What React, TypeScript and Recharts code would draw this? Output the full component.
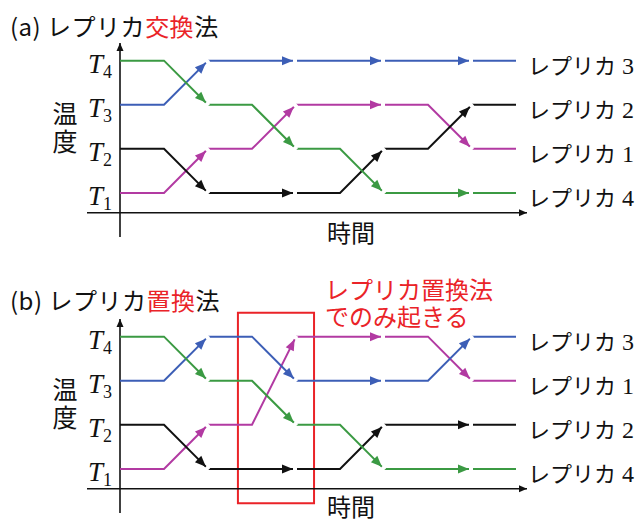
import { Line, LineChart, ReferenceArea, XAxis, YAxis } from 'recharts';

// time knots along the horizontal axis; an arrow is drawn every ARROW_EVERY knots
const TIME_STEPS = [0, 1, 2, 3, 4, 5, 6, 7, 8, 9];
const ARROW_EVERY = 2;
const TEMPERATURES = [1, 2, 3, 4];

const REPLICA_IDS = [1, 2, 3, 4];
const REPLICA_COLORS = ['#b23aa2', '#111111', '#3c5eb6', '#3b9a43'];

// temperature index held by each replica at every time knot — replica exchange
const EXCHANGE_R1 = [1, 1, 2, 2, 3, 3, 3, 3, 2, 2];
const EXCHANGE_R2 = [2, 2, 1, 1, 1, 1, 2, 2, 3, 3];
const EXCHANGE_R3 = [3, 3, 4, 4, 4, 4, 4, 4, 4, 4];
const EXCHANGE_R4 = [4, 4, 3, 3, 2, 2, 1, 1, 1, 1];

// same, replica permutation
const PERMUTE_R1 = [1, 1, 2, 2, 4, 4, 4, 4, 3, 3];
const PERMUTE_R2 = [2, 2, 1, 1, 1, 1, 2, 2, 2, 2];
const PERMUTE_R3 = [3, 3, 4, 4, 3, 3, 3, 3, 4, 4];
const PERMUTE_R4 = [4, 4, 3, 3, 2, 2, 1, 1, 1, 1];

const NOTE_LINES = ['レプリカ置換法', 'でのみ起きる'];

const X_DOMAIN: [number, number] = [-0.75, 9.25];
const Y_DOMAIN: [number, number] = [0, 4.4];
const X_AXIS_LEVEL = 0.55;

const JP = "'Noto Sans CJK JP', 'Noto Sans', sans-serif";
const SERIF = "'Liberation Serif', 'DejaVu Serif', serif";
const RED = '#ea2328';

type Pt = { t: number; v: number };

function segmentsOf(levels: number[]) {
  const pts: Pt[] = TIME_STEPS.map((t, i) => ({ t, v: levels[i] }));
  const segs: { data: Pt[]; arrow: boolean }[] = [];
  for (let s = 0; s < pts.length - 1; s += ARROW_EVERY) {
    const end = Math.min(s + ARROW_EVERY, pts.length - 1);
    segs.push({ data: pts.slice(s, end + 1), arrow: end - s === ARROW_EVERY });
  }
  return segs;
}

// arrowhead on the last point of a line, pointing along its final leg
function arrowDot(color: string, enabled: boolean, len: number, half: number, gap: number) {
  return (p: any) => {
    const { cx, cy, index, points } = p;
    const key = `a-${index}`;
    if (!enabled || !points || index !== points.length - 1 || index < 1) return <g key={key} />;
    const prev = points[index - 1];
    const dx = cx - prev.x;
    const dy = cy - prev.y;
    const d = Math.hypot(dx, dy) || 1;
    const ux = dx / d;
    const uy = dy / d;
    const tipX = cx - ux * gap;
    const tipY = cy - uy * gap;
    const bx = tipX - ux * len;
    const by = tipY - uy * len;
    const nx = -uy * half;
    const ny = ux * half;
    return (
      <g key={key}>
        {gap > 0 && (
          <line x1={tipX} y1={tipY} x2={cx + ux} y2={cy + uy} stroke="#fff" strokeWidth={4} />
        )}
        <polygon points={`${tipX},${tipY} ${bx + nx},${by + ny} ${bx - nx},${by - ny}`} fill={color} />
      </g>
    );
  };
}

const TempTick = ({ x, y, payload }: any) => (
  <text x={x + 1} y={y + 12} fontFamily={SERIF} fontStyle="italic" fontSize={27} fill="#111">
    T
    <tspan fontStyle="normal" fontSize={18} dy={5}>
      {payload.value}
    </tspan>
  </text>
);

type PanelProps = {
  replicas: number[][];
  top: number;
  height: number;
  box?: { x1: number; x2: number; y1: number; y2: number };
};

function Panel({ replicas, top, height, box }: PanelProps) {
  // replica that ends up at each temperature, shown at the right edge
  const endLabel = (level: number) => {
    const idx = replicas.findIndex((r) => r[r.length - 1] === level);
    return REPLICA_IDS[idx];
  };

  const ReplicaTick = ({ x, y, payload }: any) => (
    <text x={x + 1} y={y + 13} fill="#111">
      <tspan fontFamily={JP} fontSize={22}>
        レプリカ
      </tspan>
      <tspan fontFamily={SERIF} fontSize={24} dx={6}>
        {endLabel(payload.value)}
      </tspan>
    </text>
  );

  const lastT = TIME_STEPS[TIME_STEPS.length - 1];

  return (
    <div style={{ position: 'absolute', left: 0, top }}>
      <LineChart width={638} height={height} margin={{ top: 43, right: 0, bottom: height - 43 - 194, left: 47 }}>
        <XAxis dataKey="t" type="number" domain={X_DOMAIN} hide />
        <YAxis
          yAxisId="left"
          type="number"
          domain={Y_DOMAIN}
          ticks={TEMPERATURES}
          interval={0}
          width={40}
          axisLine={false}
          tickLine={false}
          tickSize={0}
          tickMargin={0}
          tick={TempTick}
        />
        <YAxis
          yAxisId="right"
          orientation="right"
          type="number"
          domain={Y_DOMAIN}
          ticks={TEMPERATURES}
          interval={0}
          width={111}
          axisLine={false}
          tickLine={false}
          tickSize={0}
          tickMargin={0}
          tick={ReplicaTick}
        />
        {/* end positions bound to the right-hand axis (not stroked) */}
        <Line
          yAxisId="right"
          data={TEMPERATURES.map((v) => ({ t: lastT, v }))}
          dataKey="v"
          stroke="none"
          dot={false}
          activeDot={false}
          isAnimationActive={false}
        />
        {/* axes drawn as arrows */}
        <Line
          yAxisId="left"
          data={[
            { t: 0, v: Y_DOMAIN[0] },
            { t: 0, v: Y_DOMAIN[1] },
          ]}
          dataKey="v"
          stroke="#111"
          strokeWidth={1.6}
          dot={arrowDot('#111', true, 8, 3.5, 0)}
          activeDot={false}
          isAnimationActive={false}
        />
        <Line
          yAxisId="left"
          data={[
            { t: X_DOMAIN[0], v: X_AXIS_LEVEL },
            { t: X_DOMAIN[1], v: X_AXIS_LEVEL },
          ]}
          dataKey="v"
          stroke="#111"
          strokeWidth={1.6}
          dot={arrowDot('#111', true, 8, 3.5, 0)}
          activeDot={false}
          isAnimationActive={false}
        />
        {replicas.flatMap((levels, r) =>
          segmentsOf(levels).map((seg, s) => (
            <Line
              key={`r${r}-s${s}`}
              yAxisId="left"
              data={seg.data}
              dataKey="v"
              type="linear"
              stroke={REPLICA_COLORS[r]}
              strokeWidth={2}
              dot={arrowDot(REPLICA_COLORS[r], seg.arrow, 11, 4.5, 3)}
              activeDot={false}
              isAnimationActive={false}
            />
          )),
        )}
        {box && (
          <ReferenceArea
            yAxisId="left"
            x1={box.x1}
            x2={box.x2}
            y1={box.y1}
            y2={box.y2}
            ifOverflow="visible"
            fill="none"
            fillOpacity={0}
            stroke={RED}
            strokeWidth={2}
          />
        )}
      </LineChart>
    </div>
  );
}

const titleStyle: React.CSSProperties = {
  position: 'absolute',
  left: 10,
  fontFamily: JP,
  fontSize: 24,
  lineHeight: '30px',
  letterSpacing: 0.5,
  color: '#111',
  whiteSpace: 'nowrap',
};

// vertical "温度" beside the temperature axis
const sideStyle: React.CSSProperties = {
  position: 'absolute',
  left: 52,
  writingMode: 'vertical-rl',
  fontFamily: JP,
  fontSize: 25,
  lineHeight: '26px',
  letterSpacing: 3,
  color: '#111',
};

const timeStyle: React.CSSProperties = {
  position: 'absolute',
  left: 327,
  fontFamily: JP,
  fontSize: 24,
  lineHeight: '24px',
  color: '#111',
};

const noteStyle: React.CSSProperties = {
  position: 'absolute',
  left: 325,
  fontFamily: JP,
  fontSize: 24,
  lineHeight: '24px',
  color: RED,
  whiteSpace: 'nowrap',
};

export default function App() {
  return (
    <div
      style={{
        position: 'absolute',
        left: 0,
        top: 0,
        width: 638,
        height: 520,
        overflow: 'hidden',
        background: '#fff',
      }}
    >
      <Panel replicas={[EXCHANGE_R1, EXCHANGE_R2, EXCHANGE_R3, EXCHANGE_R4]} top={0} height={250} />
      <Panel
        replicas={[PERMUTE_R1, PERMUTE_R2, PERMUTE_R3, PERMUTE_R4]}
        top={276}
        height={244}
        box={{ x1: 2.68, x2: 4.41, y1: 0.22, y2: 4.54 }}
      />

      <div style={{ ...titleStyle, top: 11 }}>
        (a) レプリカ<span style={{ color: RED }}>交換</span>法
      </div>
      <div style={{ ...titleStyle, top: 285 }}>
        (b) レプリカ<span style={{ color: RED }}>置換</span>法
      </div>

      <div style={{ ...sideStyle, top: 101 }}>温度</div>
      <div style={{ ...sideStyle, top: 377 }}>温度</div>

      <div style={{ ...timeStyle, top: 220 }}>時間</div>
      <div style={{ ...timeStyle, top: 494 }}>時間</div>

      {NOTE_LINES.map((line, i) => (
        <div key={line} style={{ ...noteStyle, top: 277 + i * 27 }}>
          {line}
        </div>
      ))}
    </div>
  );
}
